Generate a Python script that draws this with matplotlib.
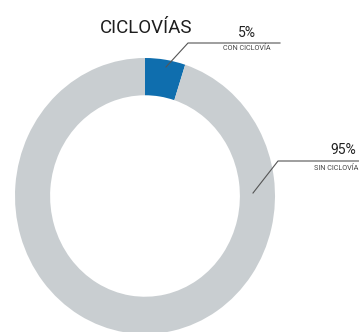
import matplotlib.pyplot as plt

plt.rcParams['font.family'] = ['Roboto', 'DejaVu Sans']

labels = ['CON CICLOVÍA', 'SIN CICLOVÍA']
values = [5, 95]
colors = ['#0f6eae', '#c9ced1']

W, H = 359, 332
fig = plt.figure(figsize=(W / 100, H / 100), dpi=100)

# donut, slightly taller than wide like the source
cx, cy, rx, ry = 145, 196, 130, 138
ax = fig.add_axes([(cx - rx) / W, (H - cy - ry) / H, 2 * rx / W, 2 * ry / H])
ax.pie(values, colors=colors, startangle=90, counterclock=False,
       radius=1, wedgeprops=dict(width=0.27, linewidth=0))
ax.set_aspect('auto')
ax.set_xlim(-1, 1)
ax.set_ylim(-1, 1)
ax.axis('off')

# overlay in pixel coords for title and callouts
ov = fig.add_axes([0, 0, 1, 1])
ov.set_xlim(0, W)
ov.set_ylim(H, 0)
ov.axis('off')

ov.text(146, 33, 'CICLOVÍAS', fontsize=13.5, ha='center', va='baseline', color='#1e1e1e')

lc = '#555555'
# 5% callout
ov.plot([166, 188, 280], [67, 43, 43], color=lc, lw=0.8)
ov.text(247, 37, f'{values[0]}%', fontsize=10, ha='center', va='baseline', color='#222222')
ov.text(247, 49, labels[0], fontsize=5.2, ha='center', va='center', color='#444444')

# 95% callout
ov.plot([253, 278, 359], [193, 161, 161], color=lc, lw=0.8)
ov.text(343, 154, f'{values[1]}%', fontsize=10, ha='center', va='baseline', color='#222222')
ov.text(358, 169, labels[1], fontsize=5.2, ha='right', va='center', color='#444444')

fig.savefig('out.png', dpi=100)
